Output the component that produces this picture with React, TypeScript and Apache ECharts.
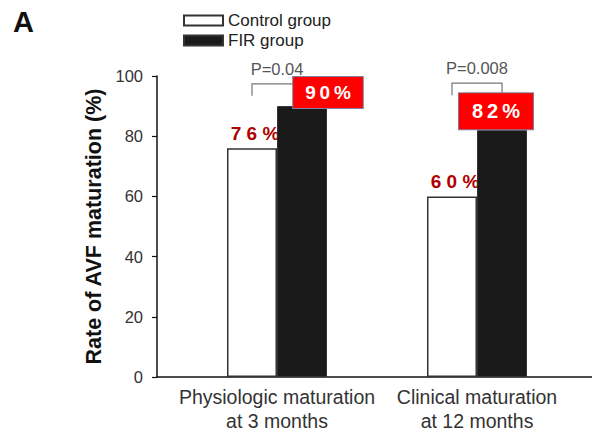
import React, { useEffect, useRef } from "react";
import * as echarts from "echarts";

const categories = ["Physiologic maturation\nat 3 months", "Clinical maturation\nat 12 months"];
const controlValues = [76, 60];
const firValues = [90, 82];
const controlLabels = ["7 6 %", "6 0 %"];
const firLabels = ["9\u20090\u2009%", "8\u20092\u2009%"];
const pValues = ["P=0.04", "P=0.008"];
const bracketLevels = [97.4, 97.6];
const yTicks = [0, 20, 40, 60, 80, 100];

const FONT = "'Liberation Sans', Arial, Helvetica, sans-serif";

export default function App() {
  const ref = useRef<HTMLDivElement>(null);
  useEffect(() => {
    document.body.style.margin = "0";
    if (!ref.current) return;
    const chart = echarts.init(ref.current, null, { renderer: "svg" });
    const firOffsets = [[26, 2], [-6, -1]];
    const firPads = [[6, 12, 6, 12], [8, 13, 8, 13]];
    const firSizes = [19, 20];
    chart.setOption({
      animation: false,
      textStyle: { fontFamily: FONT },
      title: {
        text: "A",
        left: 8,
        top: 2,
        textStyle: { fontSize: 29, fontWeight: "bold", color: "#111", fontFamily: FONT },
      },
      legend: {
        data: ["Control group", "FIR group"],
        orient: "vertical",
        left: 178,
        top: 7,
        itemWidth: 39,
        itemHeight: 10,
        itemGap: 3,
        icon: "rect",
        textStyle: { fontSize: 17, color: "#222", fontFamily: FONT },
      },
      grid: [
        { left: 177, right: 15, top: 76, bottom: 61 },
        { left: 157, right: 0, top: 76, bottom: 61 },
      ],
      xAxis: [
        {
          type: "category",
          data: categories,
          gridIndex: 0,
          axisLine: { show: false },
          axisTick: { show: false },
          axisLabel: { interval: 0, fontSize: 19.5, color: "#333", lineHeight: 24, margin: 8, fontFamily: FONT },
        },
        {
          type: "category",
          data: categories,
          gridIndex: 1,
          axisLine: { show: true, lineStyle: { color: "#111", width: 1.5 } },
          axisTick: { show: false },
          axisLabel: { show: false },
        },
      ],
      yAxis: [
        {
          type: "value",
          gridIndex: 0,
          min: yTicks[0],
          max: yTicks[yTicks.length - 1],
          interval: 20,
          offset: 20,
          name: "Rate of AVF maturation (%)",
          nameLocation: "middle",
          nameGap: 52,
          nameTextStyle: { fontSize: 21.5, fontWeight: "bold", color: "#111", fontFamily: FONT },
          axisLine: { show: true, lineStyle: { color: "#111", width: 1.5 } },
          axisTick: { show: true, length: 5, lineStyle: { color: "#111", width: 1.2 } },
          axisLabel: { fontSize: 16.5, color: "#333", margin: 14, fontFamily: FONT },
          splitLine: { show: false },
        },
        {
          type: "value",
          gridIndex: 1,
          min: 0,
          max: 100,
          show: false,
        },
      ],
      series: [
        {
          name: "Control group",
          type: "bar",
          data: controlValues,
          barWidth: 50,
          barGap: "0%",
          itemStyle: { color: "#ffffff", borderColor: "#333", borderWidth: 1.5 },
          label: {
            show: true,
            position: "top",
            distance: 5,
            offset: [3, 0],
            formatter: (p: any) => controlLabels[p.dataIndex],
            color: "#b00000",
            fontSize: 19,
            fontWeight: "bold",
            fontFamily: FONT,
          },
          z: 2,
        },
        {
          name: "FIR group",
          type: "bar",
          barWidth: 50,
          barGap: "0%",
          data: firValues.map((v, i) => ({
            value: v,
            label: {
              offset: firOffsets[i],
              padding: firPads[i],
              fontSize: firSizes[i],
            },
          })),
          itemStyle: { color: "#1a1a1a", borderColor: "#333", borderWidth: 1 },
          label: {
            show: true,
            position: "top",
            distance: 0,
            formatter: (p: any) => firLabels[p.dataIndex],
            color: "#ffffff",
            fontSize: 19,
            fontWeight: "bold",
            fontFamily: FONT,
            backgroundColor: "#ff0000",
            borderColor: "#8080a0",
            borderWidth: 1,
          },
          z: 3,
        },
        {
          type: "custom",
          z: 1,
          data: bracketLevels.map((lv, i) => [i, lv]),
          renderItem: (params: any, api: any) => {
            const idx = api.value(0);
            const lv = api.value(1);
            const top = api.coord([idx, lv]);
            const legY = api.coord([idx, lv - 4])[1];
            const txt = api.coord([idx, lv + 5]);
            const band = api.size([1, 0])[0];
            const lx = top[0] - band / 8;
            const rx = top[0] + band / 8;
            return {
              type: "group",
              children: [
                {
                  type: "polyline",
                  shape: { points: [[lx, legY], [lx, top[1]], [rx, top[1]], [rx, legY]] },
                  style: { stroke: "#777", lineWidth: 1.2, fill: "none" },
                },
                {
                  type: "text",
                  x: top[0],
                  y: txt[1],
                  style: {
                    text: pValues[params.dataIndex],
                    fill: "#555",
                    fontSize: 16.5,
                    fontFamily: FONT,
                    align: "center",
                    verticalAlign: "middle",
                  },
                },
              ],
            };
          },
        },
      ],
    });
    return () => chart.dispose();
  }, []);
  return <div ref={ref} style={{ width: 592, height: 438 }} />;
}
